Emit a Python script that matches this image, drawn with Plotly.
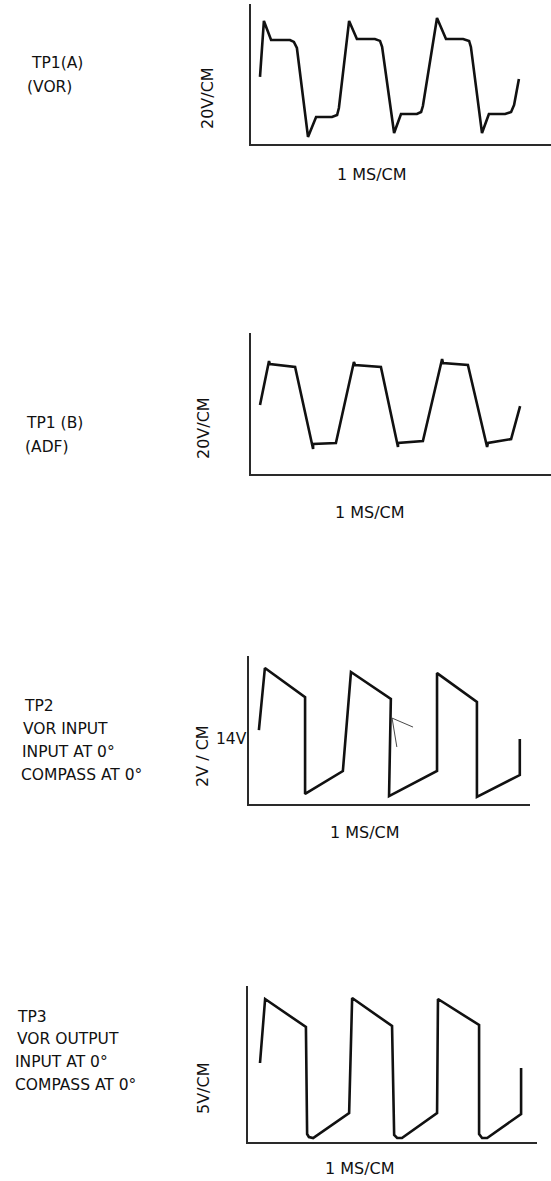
import plotly.graph_objects as go

W, H = 551, 1181

# ---- data (time in ms, amplitude in volts) ----
tp1a_t = [0.30, 0.43, 0.67, 1.30, 1.43, 1.53, 1.90, 2.17, 2.70, 2.87, 2.93, 3.27, 3.53, 4.13, 4.30, 4.37,
          4.77, 5.00, 5.53, 5.67, 5.73, 6.20, 6.50, 7.07, 7.27, 7.33, 7.70, 7.93, 8.47, 8.67, 8.77, 8.93]
tp1a_v = [44.7, 82.0, 69.3, 69.3, 68.0, 64.0, 4.7, 18.0, 18.0, 19.3, 24.0, 82.0, 70.0, 70.0, 68.7, 64.7,
          7.3, 20.0, 20.0, 21.3, 25.3, 84.0, 70.0, 70.0, 68.7, 64.7, 7.3, 20.0, 20.0, 21.3, 26.0, 43.3]

tp1b_t = [0.30, 0.60, 0.63, 1.47, 2.07, 2.07, 2.83, 3.43, 3.47, 4.33, 4.90, 4.90, 5.73, 6.37, 6.40,
          7.23, 7.87, 7.90, 8.67, 8.97]
tp1b_v = [46.0, 75.3, 73.3, 71.3, 16.7, 20.0, 20.7, 74.7, 72.7, 71.3, 18.0, 20.7, 22.0, 76.7, 74.0,
          72.7, 18.0, 20.7, 23.3, 45.3]

tp2_t = [0.33, 0.53, 1.87, 1.87, 3.13, 3.40, 4.73, 4.67, 6.27, 6.27, 7.60, 7.60, 9.03, 9.03]
tp2_v = [4.93, 9.07, 7.13, 0.67, 2.20, 8.80, 7.00, 0.53, 2.20, 8.73, 6.80, 0.47, 1.93, 4.33]
tp2_ptr_t = [5.47, 4.77, 4.93]
tp2_ptr_v = [5.13, 5.73, 3.80]

tp3_t = [0.40, 0.57, 1.93, 1.97, 2.03, 2.17, 3.37, 3.47, 4.80, 4.87, 4.97, 5.13, 6.30, 6.33, 7.70,
         7.70, 7.80, 7.97, 9.10, 9.10]
tp3_v = [13.17, 23.83, 19.17, 1.33, 0.83, 0.67, 4.83, 24.0, 19.33, 1.17, 0.67, 0.67, 4.83, 23.83, 19.5,
         1.33, 0.67, 0.67, 4.67, 12.33]

vscale_labels = ["20V/CM", "20V/CM", "2V / CM", "5V/CM"]
tscale_label = "1 MS/CM"
panel_texts = [["TP1(A)", "(VOR)"],
               ["TP1 (B)", "(ADF)"],
               ["TP2", "VOR INPUT", "INPUT AT 0°", "COMPASS AT 0°"],
               ["TP3", "VOR OUTPUT", "INPUT AT 0°", "COMPASS AT 0°"]]
level_label = "14V"

# ---- layout geometry (pixels) ----
boxes = [(251, 551, 4, 144), (251, 551, 333, 474), (249, 530, 656, 804), (248, 537, 986, 1142)]
xr = [[0, 10.0], [0, 10.0], [0, 9.37], [0, 9.63]]
yr = [[0, 93.3], [0, 94.0], [0, 9.87], [0, 26.0]]

def px(x):
    return x / W

def py(y):
    return 1 - y / H

fig = go.Figure()
series = [(tp1a_t, tp1a_v), (tp1b_t, tp1b_v), (tp2_t, tp2_v), (tp3_t, tp3_v)]
for i, (t, v) in enumerate(series):
    ax = "" if i == 0 else str(i + 1)
    fig.add_trace(go.Scatter(x=t, y=v, mode="lines", xaxis="x" + ax, yaxis="y" + ax,
                             line=dict(color="#111111", width=2.6), hoverinfo="skip",
                             showlegend=False))
fig.add_trace(go.Scatter(x=tp2_ptr_t, y=tp2_ptr_v, mode="lines", xaxis="x3", yaxis="y3",
                         line=dict(color="#333333", width=0.9), hoverinfo="skip", showlegend=False))

axcommon = dict(showgrid=False, zeroline=False, showticklabels=False, ticks="",
                showline=True, linecolor="#2a2a2a", linewidth=1.6, fixedrange=True)
for i, (l, r, t, b) in enumerate(boxes):
    n = "" if i == 0 else str(i + 1)
    fig.layout["xaxis" + n] = dict(domain=[px(l), px(r)], range=xr[i], anchor="y" + n, **axcommon)
    fig.layout["yaxis" + n] = dict(domain=[py(b), py(t)], range=yr[i], anchor="x" + n, **axcommon)

FAM = "DejaVu Sans, Liberation Sans, Arial"
FONT_L = dict(family=FAM, size=15.5, color="#111111")
FONT_S = dict(family=FAM, size=16, color="#111111")
ann = []
left_pos = [[(29, 63), (25, 87)],
            [(24, 423), (23, 447)],
            [(22, 706), (21, 729), (20, 752), (19, 775)],
            [(15, 1017), (15, 1039), (13, 1062), (13, 1085)]]
for texts, poss in zip(panel_texts, left_pos):
    for s, (x, y) in zip(texts, poss):
        ann.append(dict(text=s, x=px(x), y=py(y), xref="paper", yref="paper",
                        xanchor="left", yanchor="middle", showarrow=False, font=FONT_L))
vpos = [(208, 98), (203, 428), (202, 756), (203, 1088)]
for s, (x, y) in zip(vscale_labels, vpos):
    ann.append(dict(text=s, x=px(x), y=py(y), xref="paper", yref="paper", textangle=-90,
                    xanchor="center", yanchor="middle", showarrow=False, font=FONT_S))
tpos = [(372, 175), (370, 512), (365, 832), (360, 1168)]
for (x, y) in tpos:
    ann.append(dict(text=tscale_label, x=px(x), y=py(y), xref="paper", yref="paper",
                    xanchor="center", yanchor="middle", showarrow=False, font=FONT_S))
ann.append(dict(text=level_label, x=px(214), y=py(739), xref="paper", yref="paper",
                xanchor="left", yanchor="middle", showarrow=False, font=FONT_L))

fig.update_layout(width=W, height=H, margin=dict(l=0, r=0, t=0, b=0),
                  paper_bgcolor="white", plot_bgcolor="white", annotations=ann,
                  showlegend=False)
fig.write_html("out.html", config={"displayModeBar": False},
               post_script="document.body.style.margin='0';document.body.style.overflow='hidden';")
